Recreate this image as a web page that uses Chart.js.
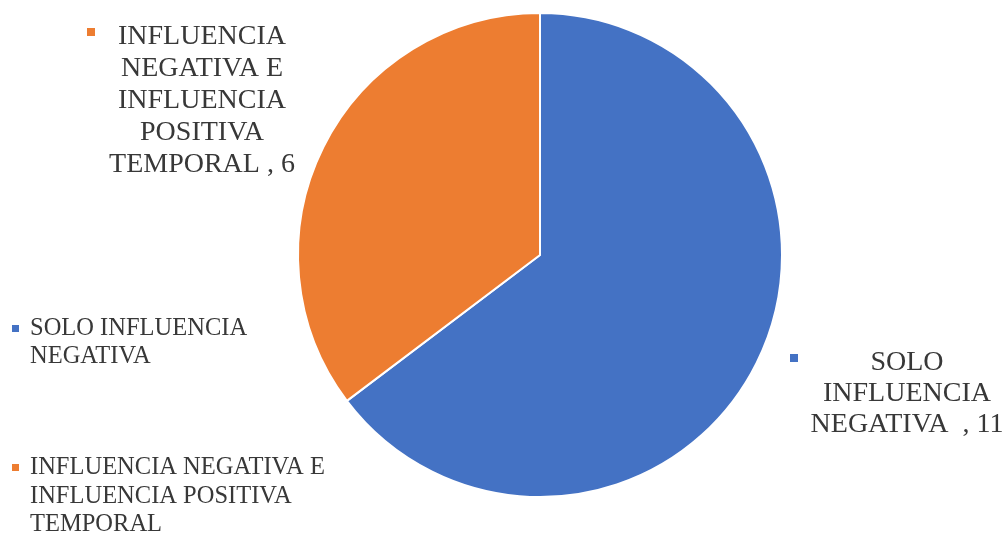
<!DOCTYPE html>
<html>
<head>
<meta charset="utf-8">
<script src="https://cdn.jsdelivr.net/npm/chart.js@4.4.0/dist/chart.umd.min.js"></script>
<style>
  html, body { margin: 0; padding: 0; background: #fff; }
  #wrap { width: 1006px; height: 539px; position: relative; }
</style>
</head>
<body>
<div id="wrap"><canvas id="pieChart" width="1006" height="539"></canvas></div>
<script>
const categories = ['SOLO INFLUENCIA NEGATIVA', 'INFLUENCIA NEGATIVA E INFLUENCIA POSITIVA TEMPORAL'];
const values = [11, 6];
const colors = ['#4472C4', '#ED7D31'];

// wrapped text as it appears in the picture
const dataLabelLines = [
    ['SOLO', 'INFLUENCIA', 'NEGATIVA  , ' + values[0]],
    ['INFLUENCIA', 'NEGATIVA E', 'INFLUENCIA', 'POSITIVA', 'TEMPORAL , ' + values[1]]
];
const legendLines = [
    ['SOLO INFLUENCIA', 'NEGATIVA'],
    ['INFLUENCIA NEGATIVA E', 'INFLUENCIA POSITIVA', 'TEMPORAL']
];

const textColor = '#383838';
const serif = '"Liberation Serif", "Times New Roman", serif';

const labelsPlugin = {
    id: 'labelsPlugin',
    afterDraw(chart) {
        const ctx = chart.ctx;
        ctx.save();
        ctx.textBaseline = 'middle';

        // data labels
        const dl = [
            { cx: 907, y: 363, lh: 31, mx: 790, my: 354 },
            { cx: 202, y: 37, lh: 32, mx: 87, my: 28 }
        ];
        ctx.font = '28px ' + serif;
        ctx.textAlign = 'center';
        dataLabelLines.forEach((lines, i) => {
            const p = dl[i];
            ctx.fillStyle = colors[i];
            ctx.fillRect(p.mx, p.my, 8, 8);
            ctx.fillStyle = textColor;
            lines.forEach((t, j) => ctx.fillText(t, p.cx, p.y + j * p.lh));
        });

        // legend
        const lg = [
            { x: 30, y: 329, lh: 28, mx: 12, my: 325 },
            { x: 30, y: 468, lh: 28.5, mx: 12, my: 464 }
        ];
        ctx.font = '24.5px ' + serif;
        ctx.textAlign = 'left';
        legendLines.forEach((lines, i) => {
            const p = lg[i];
            ctx.fillStyle = colors[i];
            ctx.fillRect(p.mx, p.my, 7, 7);
            ctx.fillStyle = textColor;
            lines.forEach((t, j) => ctx.fillText(t, p.x, p.y + j * p.lh));
        });
        ctx.restore();
    }
};

new Chart(document.getElementById('pieChart').getContext('2d'), {
    type: 'pie',
    data: {
        labels: categories,
        datasets: [{
            data: values,
            backgroundColor: colors,
            borderColor: '#ffffff',
            borderWidth: 2
        }]
    },
    options: {
        responsive: false,
        animation: false,
        layout: { padding: { left: 297, right: 223, top: 12, bottom: 41 } },
        plugins: {
            legend: { display: false },
            tooltip: { enabled: false }
        }
    },
    plugins: [labelsPlugin]
});
</script>
</body>
</html>
